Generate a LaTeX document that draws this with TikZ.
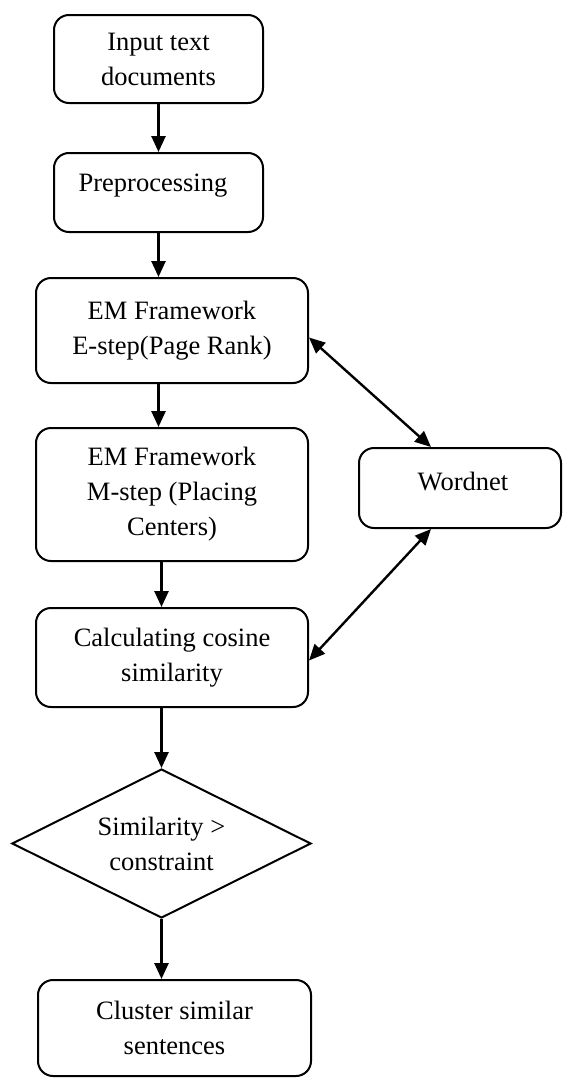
\documentclass[tikz,border=0pt]{standalone}
\usepackage{fontspec}
\setmainfont{Liberation Serif}
\usetikzlibrary{shapes.geometric,arrows.meta,calc}
\begin{document}
\begin{tikzpicture}[x=1pt,y=-1pt,
  box/.style={draw, line width=2pt, rounded corners=15pt, inner sep=0pt, align=center, font=\fontsize{26.5}{35}\selectfont},
  dia/.style={draw, diamond, line width=2pt, inner sep=0pt, aspect=2, align=center, font=\fontsize{26.5}{35}\selectfont},
  txt/.style={inner sep=0pt, align=center, font=\fontsize{26.5}{35}\selectfont},
  arr/.style={line width=2.6pt, -{Triangle[length=16pt,width=14pt]}},
  darr/.style={line width=2.4pt, {Triangle[length=16pt,width=14pt]}-{Triangle[length=16pt,width=14pt]}}]
\useasboundingbox (0,0) rectangle (563,1079);

\node[box, minimum width=209pt, minimum height=88pt] (in) at (158.5,59) {Input text\\documents};
\node[box, minimum width=209pt, minimum height=79pt] (pre) at (158.5,192.5) {};
\node[txt] (pretxt) at (153,186) {Preprocessing};
\node[box, minimum width=272pt, minimum height=105pt] (estep) at (172,330.5) {EM Framework\\E-step(Page Rank)};
\node[box, minimum width=272pt, minimum height=133pt] (mstep) at (172,494.5) {EM Framework\\M-step (Placing\\Centers)};
\node[box, minimum width=202pt, minimum height=80pt] (word) at (460,488) {};
\node[txt] (wordtxt) at (463,481) {Wordnet};
\node[box, minimum width=272pt, minimum height=99pt] (cos) at (172,657.5) {Calculating cosine\\similarity};
\node[dia, minimum width=299pt, minimum height=149pt] (dec) at (161.5,843.5) {Similarity >\\constraint};
\node[box, minimum width=273pt, minimum height=96pt] (clu) at (174.5,1028) {Cluster similar\\sentences};

\draw[arr] (in.south) -- (pre.north);
\draw[arr] (pre.south) -- (estep.north -| pre.south);
\draw[arr] (estep.south -| pre.south) -- (mstep.north -| pre.south);
\draw[arr] (mstep.south -| dec.north) -- (cos.north -| dec.north);
\draw[arr] (cos.south -| dec.north) -- (dec.north);
\draw[arr] (dec.south) -- (clu.north -| dec.south);
\draw[darr] ($(estep.east)+(0,7)$) -- ($(word.north)+(-29,0)$);
\draw[darr] ($(word.south)+(-29,0)$) -- ($(cos.east)+(0,3)$);
\end{tikzpicture}
\end{document}
